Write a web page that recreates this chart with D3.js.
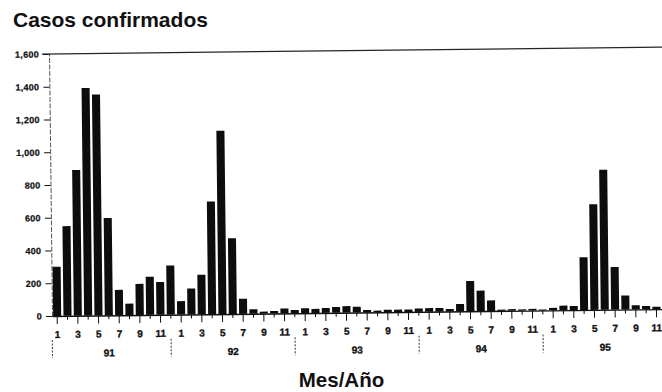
<!DOCTYPE html>
<html>
<head>
<meta charset="utf-8">
<script src="https://cdn.jsdelivr.net/npm/d3@7"></script>
<style>
  body { margin: 0; background: #fff; }
  svg { display: block; font-family: "Liberation Sans", Arial, sans-serif; }
</style>
</head>
<body>
<svg id="chart" width="662" height="392"></svg>
<script>
// monthly confirmed cases, Jan 1991 - Dec 1995
const years = ['91', '92', '93', '94', '95'];
const months = [1, 2, 3, 4, 5, 6, 7, 8, 9, 10, 11, 12];
const cases91 = [300, 548, 890, 1390, 1350, 595, 155, 70, 190, 233, 200, 300];
const cases92 = [82, 158, 242, 688, 1120, 462, 92, 27, 12, 15, 30, 20];
const cases93 = [30, 25, 30, 35, 40, 35, 15, 10, 15, 15, 15, 20];
const cases94 = [22, 22, 15, 45, 185, 125, 65, 8, 10, 8, 10, 6];
const cases95 = [15, 28, 25, 322, 645, 855, 260, 85, 25, 20, 15, 15];
const yTicks = [0, 200, 400, 600, 800, 1000, 1200, 1400, 1600];

const series = [cases91, cases92, cases93, cases94, cases95];
const data = [];
series.forEach((vals, yi) => {
  vals.forEach((v, mi) => data.push({ i: yi * 12 + mi, year: years[yi], month: months[mi], value: v }));
});

const left = 52;
const baseY = 316;
const topY = 54;
const step = 10.333;

const svg = d3.select('#chart');

const x = d3.scaleBand()
  .domain(data.map(d => d.i))
  .range([left, left + step * data.length])
  .paddingInner(0.22)
  .paddingOuter(0.11);

const y = d3.scaleLinear()
  .domain([0, 1600])
  .range([baseY, topY]);

// the scanned original is slightly tilted
const g = svg.append('g')
  .attr('transform', `rotate(-0.65, ${left}, ${baseY})`);

// top frame line at 1,600
g.append('line')
  .attr('x1', left - 7)
  .attr('x2', 700)
  .attr('y1', y(1600))
  .attr('y2', y(1600))
  .attr('stroke', '#262626')
  .attr('stroke-width', 1.3);

// y axis
const yAxis = g.append('g')
  .attr('class', 'y axis')
  .attr('transform', `translate(${left},0)`)
  .call(d3.axisLeft(y)
    .tickValues(yTicks)
    .tickFormat(d3.format(','))
    .tickSize(6)
    .tickSizeOuter(0)
    .tickPadding(4));

yAxis.select('.domain')
  .attr('stroke', '#444')
  .attr('stroke-width', 0.9)
  .attr('stroke-dasharray', '5 1.5');
yAxis.selectAll('.tick line')
  .attr('stroke', '#111')
  .attr('stroke-width', 1);
yAxis.selectAll('.tick text')
  .attr('fill', '#111')
  .attr('stroke', '#111')
  .attr('stroke-width', 0.25)
  .attr('font-size', 9)
  .attr('font-weight', 'bold')
  .attr('letter-spacing', 0.3);

// bars
g.append('g')
  .selectAll('rect')
  .data(data)
  .join('rect')
  .attr('x', d => x(d.i))
  .attr('y', d => y(d.value))
  .attr('width', x.bandwidth())
  .attr('height', d => y(0) - y(d.value))
  .attr('fill', '#0d0d0d');

// x axis, months
const xAxis = g.append('g')
  .attr('class', 'x axis')
  .attr('transform', `translate(0,${baseY})`)
  .call(d3.axisBottom(x)
    .tickSize(8)
    .tickSizeOuter(0)
    .tickFormat(i => (data[i].month % 2 === 1 ? data[i].month : '')));

xAxis.select('.domain')
  .attr('stroke', '#111')
  .attr('stroke-width', 1.4);
xAxis.selectAll('.tick line')
  .attr('stroke', '#111')
  .attr('stroke-width', 1)
  .attr('y2', i => (data[i].month % 2 === 1 ? 8 : 4));
xAxis.selectAll('.tick text')
  .attr('y', 15)
  .attr('fill', '#111')
  .attr('stroke', '#111')
  .attr('stroke-width', 0.35)
  .attr('font-size', 10)
  .attr('font-weight', 'bold');

// year separators and labels
const sepX = k => (k === 0 ? left : x(k * 12 - 1) + x.bandwidth() / 2);

g.append('g')
  .selectAll('line')
  .data(years)
  .join('line')
  .attr('x1', (d, k) => sepX(k))
  .attr('x2', (d, k) => sepX(k))
  .attr('y1', baseY + 24)
  .attr('y2', baseY + 42)
  .attr('stroke', '#333')
  .attr('stroke-width', 1)
  .attr('stroke-dasharray', '2 1.5');

g.append('g')
  .selectAll('text')
  .data(years)
  .join('text')
  .attr('x', (d, k) => x(k * 12 + 5) + x.bandwidth() / 2)
  .attr('y', baseY + 41)
  .attr('text-anchor', 'middle')
  .attr('fill', '#111')
  .attr('stroke', '#111')
  .attr('stroke-width', 0.35)
  .attr('font-size', 10)
  .attr('font-weight', 'bold')
  .text(d => d);

// titles
svg.append('text')
  .attr('x', 13)
  .attr('y', 27)
  .attr('font-size', 21)
  .attr('font-weight', 'bold')
  .attr('fill', '#111')
  .text('Casos confirmados');

svg.append('text')
  .attr('x', 341.5)
  .attr('y', 387)
  .attr('text-anchor', 'middle')
  .attr('font-size', 20.5)
  .attr('font-weight', 'bold')
  .attr('fill', '#111')
  .text('Mes/Año');
</script>
</body>
</html>
